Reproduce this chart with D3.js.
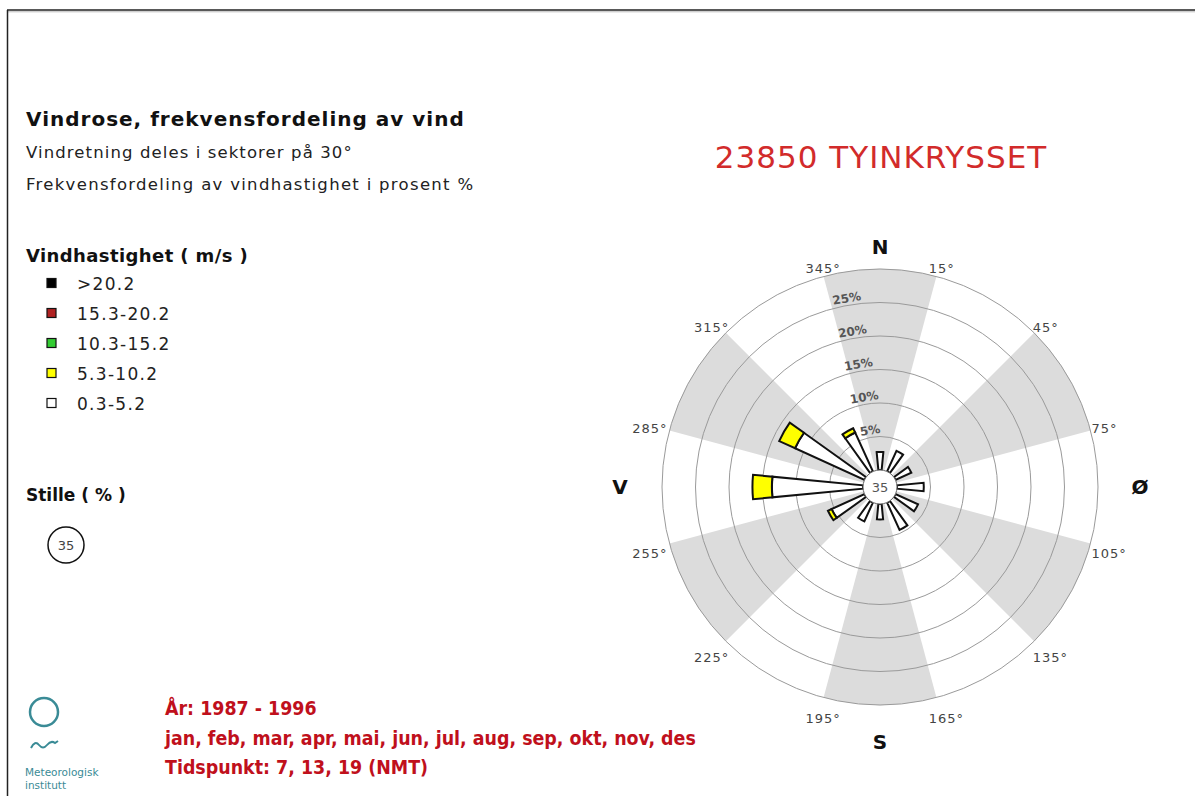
<!DOCTYPE html>
<html>
<head>
<meta charset="utf-8">
<script src="https://cdn.jsdelivr.net/npm/d3@7"></script>
<style>
  body { margin: 0; background: #fff; }
  svg { display: block; font-family: "DejaVu Sans", Verdana, sans-serif; }
</style>
</head>
<body>
<div id="rose"></div>
<script>
// wind direction sectors (degrees from north), 30 deg each
var directions = [0, 30, 60, 90, 120, 150, 180, 210, 240, 270, 300, 330];
// frequency in percent per speed class, one value per direction
var s0_3to5_2   = [2.7, 3.4, 2.6, 4.0, 3.7, 4.5, 2.3, 3.1, 5.4, 13.6, 11.4, 6.4];
var s5_3to10_2  = [0, 0, 0, 0, 0, 0, 0, 0, 0.6, 2.9, 2.6, 0.7];
var s10_3to15_2 = [0, 0, 0, 0, 0, 0, 0, 0, 0, 0, 0, 0];
var s15_3to20_2 = [0, 0, 0, 0, 0, 0, 0, 0, 0, 0, 0, 0];
var sOver20_2   = [0, 0, 0, 0, 0, 0, 0, 0, 0, 0, 0, 0];
var calm = 35;

var speedLabels = [">20.2", "15.3-20.2", "10.3-15.2", "5.3-10.2", "0.3-5.2"];
var speedColors = ["#000000", "#b02222", "#33cc33", "#ffff00", "#ffffff"];
var ringTicks = [5, 10, 15, 20, 25, 30];
var degreeLabels = [15, 45, 75, 105, 135, 165, 195, 225, 255, 285, 315, 345];
var shadedSectors = [0, 60, 120, 180, 240, 300];
var compass = [["N", 0], ["Ø", 90], ["S", 180], ["V", 270]];

var W = 1195, H = 796;
var cx = 880, cy = 487;
var rad = Math.PI / 180;

var svg = d3.select("#rose").append("svg").attr("width", W).attr("height", H);

// frame
svg.append("line").attr("x1", 7).attr("x2", W).attr("y1", 10).attr("y2", 10).attr("stroke", "#222").attr("stroke-width", 1.5);
svg.append("line").attr("x1", 7).attr("x2", W).attr("y1", 11.8).attr("y2", 11.8).attr("stroke", "#bbb").attr("stroke-width", 1);
svg.append("line").attr("x1", 7.5).attr("x2", 7.5).attr("y1", 10).attr("y2", H).attr("stroke", "#222").attr("stroke-width", 1.5);

// left texts
svg.append("text").attr("x", 26).attr("y", 126).attr("font-size", 20).attr("font-weight", "bold").attr("letter-spacing", 1).attr("fill", "#111")
  .text("Vindrose, frekvensfordeling av vind");
svg.append("text").attr("x", 26).attr("y", 158).attr("font-size", 16.5).attr("letter-spacing", 1.1).attr("fill", "#222")
  .text("Vindretning deles i sektorer på 30°");
svg.append("text").attr("x", 26).attr("y", 190).attr("font-size", 16.5).attr("letter-spacing", 1.3).attr("fill", "#222")
  .text("Frekvensfordeling av vindhastighet i prosent %");

// legend
svg.append("text").attr("x", 26).attr("y", 262).attr("font-size", 18).attr("font-weight", "bold").attr("letter-spacing", 0.4).attr("fill", "#111")
  .text("Vindhastighet ( m/s )");
var leg = svg.selectAll(".leg").data(speedLabels).enter().append("g")
  .attr("transform", (d, i) => "translate(0," + (283 + i * 30) + ")");
leg.append("rect").attr("x", 47).attr("y", -4.5).attr("width", 9).attr("height", 9)
  .attr("fill", (d, i) => speedColors[i]).attr("stroke", "#111").attr("stroke-width", 1.2);
leg.append("text").attr("x", 77).attr("y", 7).attr("font-size", 17).attr("letter-spacing", 1.3).attr("fill", "#222")
  .text(d => d);

svg.append("text").attr("x", 26).attr("y", 501).attr("font-size", 17).attr("font-weight", "bold").attr("fill", "#111")
  .text("Stille ( % )");
svg.append("circle").attr("cx", 66).attr("cy", 545).attr("r", 18).attr("fill", "#fff").attr("stroke", "#111").attr("stroke-width", 1.5);
svg.append("text").attr("x", 66).attr("y", 550).attr("text-anchor", "middle").attr("font-size", 13).attr("fill", "#444").text(calm);

// station title
svg.append("text").attr("x", cx + 1).attr("y", 168).attr("text-anchor", "middle").attr("font-size", 31)
  .attr("fill", "#d22b2b").attr("letter-spacing", 1).text("23850 TYINKRYSSET");

// bottom info
var info = ["År: 1987 - 1996", "jan, feb, mar, apr, mai, jun, jul, aug, sep, okt, nov, des", "Tidspunkt: 7, 13, 19 (NMT)"];
svg.selectAll(".info").data(info).enter().append("text")
  .attr("x", 165).attr("y", (d, i) => 715 + i * 29.5)
  .attr("font-family", "'Liberation Sans Narrow', 'DejaVu Sans Condensed', sans-serif")
  .attr("font-weight", "bold").attr("font-size", 19.4).attr("fill", "#c0101c").text(d => d);

// logo
var teal = "#3a8b96";
svg.append("circle").attr("cx", 44).attr("cy", 712).attr("r", 14).attr("fill", "none").attr("stroke", teal).attr("stroke-width", 2.5);
svg.append("path").attr("d", "M31,748 Q35,740 39,745 T47,745 T55,743 L58,741")
  .attr("fill", "none").attr("stroke", teal).attr("stroke-width", 2);
svg.append("text").attr("x", 25).attr("y", 776).attr("font-size", 10.5).attr("fill", teal).text("Meteorologisk");
svg.append("text").attr("x", 25).attr("y", 789).attr("font-size", 10.5).attr("fill", teal).text("institutt");

// rose
var r = d3.scaleLinear().domain([0, 30]).range([17, 218]);
var g = svg.append("g").attr("transform", "translate(" + cx + "," + cy + ")");

g.selectAll(".shade").data(shadedSectors).enter().append("path")
  .attr("d", d => d3.arc()({innerRadius: 0, outerRadius: r(30), startAngle: (d - 15) * rad, endAngle: (d + 15) * rad}))
  .attr("fill", "#dcdcdc");

g.selectAll(".ring").data(ringTicks).enter().append("circle")
  .attr("r", d => r(d)).attr("fill", "none").attr("stroke", "#9a9a9a").attr("stroke-width", 1);

g.selectAll(".ringlab").data(ringTicks.slice(0, 5)).enter().append("text")
  .attr("transform", d => "rotate(-10) translate(0," + (-r(d) - 3) + ")")
  .attr("text-anchor", "middle").attr("font-size", 12).attr("font-weight", "bold").attr("fill", "#555")
  .text(d => d + "%");

// stacked bars, from calm circle outwards
var series = [s0_3to5_2, s5_3to10_2, s10_3to15_2, s15_3to20_2, sOver20_2];
var seriesColors = speedColors.slice().reverse();
var bars = [];
directions.forEach(function(dir, i) {
  var cum = 0;
  series.forEach(function(s, j) {
    if (s[i] > 0) {
      bars.push({dir: dir, from: cum, to: cum + s[i], color: seriesColors[j]});
      cum += s[i];
    }
  });
});
g.selectAll(".bar").data(bars).enter().append("path")
  .attr("d", d => d3.arc()({innerRadius: r(d.from), outerRadius: r(d.to), startAngle: (d.dir - 5.5) * rad, endAngle: (d.dir + 5.5) * rad}))
  .attr("fill", d => d.color).attr("stroke", "#111").attr("stroke-width", 2).attr("stroke-linejoin", "miter");

g.append("circle").attr("r", r(0)).attr("fill", "#fff").attr("stroke", "#666").attr("stroke-width", 1);
g.append("text").attr("y", 5).attr("text-anchor", "middle").attr("font-size", 13).attr("fill", "#555").text(calm);

// degree labels outside the outer ring
var R = r(30);
g.selectAll(".deg").data(degreeLabels).enter().append("text")
  .attr("x", function(d) {
    var s = Math.sin(d * rad), c = Math.cos(d * rad);
    var ex = R * s;
    return s > 0 ? ex - 10 * Math.pow(c, 4) + 1 : ex + 22 * Math.pow(c, 4) - 2;
  })
  .attr("y", function(d) {
    var c = Math.cos(d * rad);
    var ey = -R * c;
    return (c > 0 ? ey - 9 * c : ey + 5 + 16 * Math.abs(c)) + 5;
  })
  .attr("text-anchor", d => Math.sin(d * rad) > 0 ? "start" : "end")
  .attr("font-size", 13).attr("letter-spacing", 1).attr("fill", "#444")
  .text(d => d + "°");

g.selectAll(".compass").data(compass).enter().append("text")
  .attr("x", d => (R + 42) * Math.sin(d[1] * rad))
  .attr("y", function(d) {
    var c = Math.cos(d[1] * rad);
    if (c > 0.5) return -(R + 15);
    if (c < -0.5) return R + 44;
    return 7;
  })
  .attr("text-anchor", "middle").attr("font-size", 20).attr("font-weight", "bold").attr("fill", "#111")
  .text(d => d[0]);
</script>
</body>
</html>
